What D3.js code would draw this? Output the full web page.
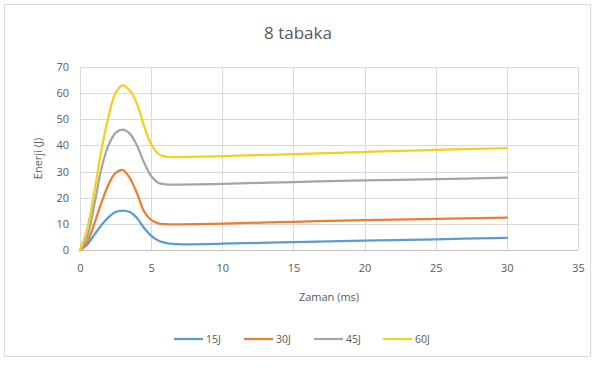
<!DOCTYPE html>
<html>
<head>
<meta charset="utf-8">
<script src="https://cdn.jsdelivr.net/npm/d3@7"></script>
<style>
  html, body { margin: 0; padding: 0; background: #fff; }
  svg { display: block; }
  text { font-family: "Open Sans", "Noto Sans", sans-serif; fill: #595959; }
</style>
</head>
<body>
<svg id="chart" width="596" height="368"></svg>
<script>
const title = "8 tabaka";
const xLabel = "Zaman (ms)";
const yLabel = "Enerji (J)";
const times = [0, 0.5, 1, 1.5, 2, 2.5, 3, 3.5, 4, 4.5, 5, 5.5, 6, 6.5, 7, 10, 15, 20, 25, 30];
const seriesNames = ["15J", "30J", "45J", "60J"];
const s15 = [0, 2, 5.8, 9.5, 12.5, 14.5, 15.1, 14.5, 12.2, 8.4, 5.5, 3.6, 2.7, 2.3, 2.2, 2.4, 3.0, 3.6, 4.1, 4.6];
const s30 = [0, 3, 10, 18, 25, 29.5, 30.6, 27.5, 21.8, 14.8, 11.5, 10.2, 9.9, 9.8, 9.8, 10.1, 10.8, 11.4, 11.9, 12.4];
const s45 = [0, 5, 17, 31, 40, 44.8, 46, 44.5, 40, 33.5, 28.3, 25.7, 25.1, 25, 25, 25.3, 26, 26.6, 27.1, 27.7];
const s60 = [0, 8, 22, 38, 51, 60, 63, 61, 56, 47.5, 40.5, 36.8, 35.7, 35.5, 35.5, 35.9, 36.7, 37.5, 38.3, 39];
const xTicks = [0, 5, 10, 15, 20, 25, 30, 35];
const yTicks = [0, 10, 20, 30, 40, 50, 60, 70];
const colors = ["#5B9BD5", "#ED7D31", "#A5A5A5", "#F0D020"];

const allSeries = [s15, s30, s45, s60];
const svg = d3.select("#chart");

// outer border
svg.append("rect").attr("x", 4.5).attr("y", 4.5).attr("width", 586).attr("height", 352)
  .attr("fill", "#fff").attr("stroke", "#D9D9D9").attr("stroke-width", 1);

const x = d3.scaleLinear().domain([0, 35]).range([80, 578]);
const y = d3.scaleLinear().domain([0, 70]).range([250, 67]);

// grid
const g = svg.append("g");
g.selectAll(".hg").data(yTicks.filter(d => d > 0)).join("line")
  .attr("x1", x(0)).attr("x2", x(35))
  .attr("y1", d => Math.round(y(d)) + 0.5).attr("y2", d => Math.round(y(d)) + 0.5)
  .attr("stroke", "#D9D9D9").attr("stroke-width", 1);
g.selectAll(".vg").data(xTicks.filter(d => d > 0)).join("line")
  .attr("y1", y(70)).attr("y2", y(0))
  .attr("x1", d => Math.round(x(d)) + 0.5).attr("x2", d => Math.round(x(d)) + 0.5)
  .attr("stroke", "#D9D9D9").attr("stroke-width", 1);
// baseline
g.append("line").attr("x1", x(0)).attr("x2", x(35))
  .attr("y1", Math.round(y(0)) + 0.5).attr("y2", Math.round(y(0)) + 0.5)
  .attr("stroke", "#BFBFBF");
g.append("line").attr("y1", y(70)).attr("y2", y(0))
  .attr("x1", Math.round(x(0)) + 0.5).attr("x2", Math.round(x(0)) + 0.5)
  .attr("stroke", "#D9D9D9");

// axes via d3
const xAxis = d3.axisBottom(x).tickValues(xTicks).tickSize(0).tickPadding(14);
const yAxis = d3.axisLeft(y).tickValues(yTicks).tickSize(0).tickPadding(11);
const gx = svg.append("g").attr("transform", `translate(0,${y(0)})`).call(xAxis);
const gy = svg.append("g").attr("transform", `translate(${x(0)},0)`).call(yAxis);
[gx, gy].forEach(a => {
  a.select(".domain").remove();
  a.selectAll("text").attr("font-size", 11).attr("fill", "#595959")
    .style("font-family", '"Open Sans", "Noto Sans", sans-serif');
});

// lines
const line = d3.line().x((d, i) => x(times[i])).y(d => y(d)).curve(d3.curveCatmullRom.alpha(0.5));
allSeries.forEach((s, i) => {
  svg.append("path").datum(s).attr("d", line)
    .attr("fill", "none").attr("stroke", colors[i]).attr("stroke-width", 2.25)
    .attr("stroke-linejoin", "round").attr("stroke-linecap", "round");
});

// title and labels
svg.append("text").attr("x", 298).attr("y", 39).attr("text-anchor", "middle")
  .attr("font-size", 17).text(title);
svg.append("text").attr("x", x(17.5)).attr("y", 301).attr("text-anchor", "middle")
  .attr("font-size", 11).text(xLabel);
svg.append("text").attr("transform", `translate(42,${y(35)}) rotate(-90)`)
  .attr("text-anchor", "middle").attr("font-size", 11).text(yLabel);

// legend
const legendX = [174, 244, 314, 383];
seriesNames.forEach((n, i) => {
  const lg = svg.append("g").attr("transform", `translate(${legendX[i]},339)`);
  lg.append("line").attr("x1", 0).attr("x2", 29).attr("y1", 0).attr("y2", 0)
    .attr("stroke", colors[i]).attr("stroke-width", 2.25);
  lg.append("text").attr("x", 32).attr("y", 4).attr("font-size", 10.5).text(n);
});
</script>
</body>
</html>
